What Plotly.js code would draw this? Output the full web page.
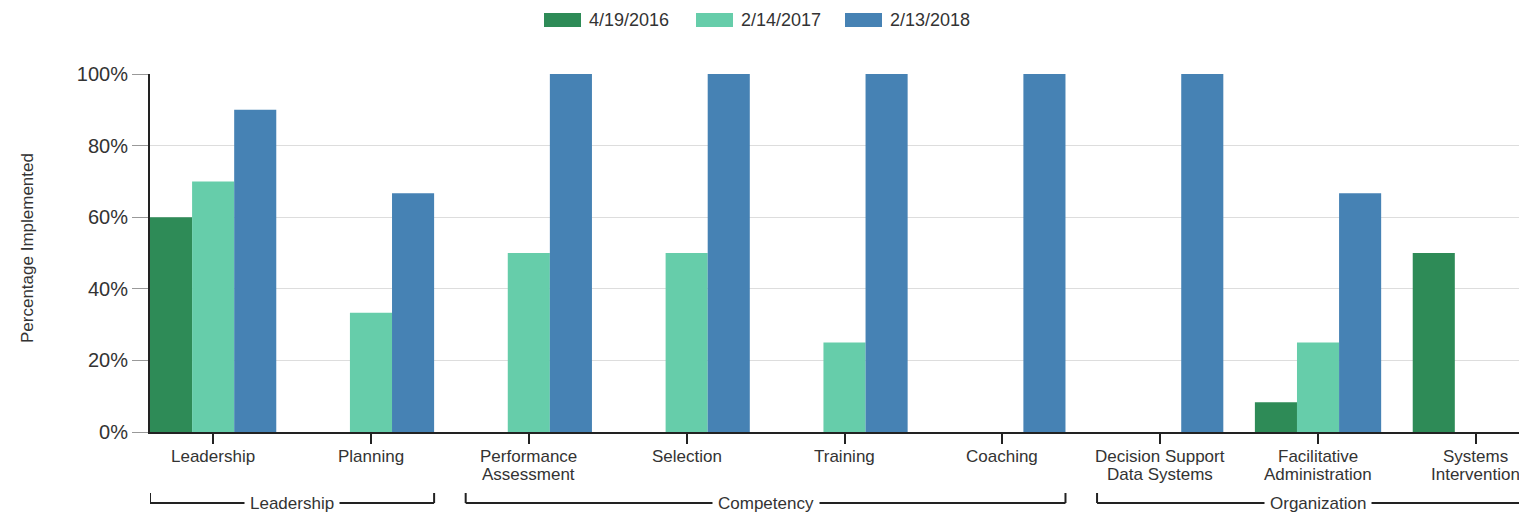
<!DOCTYPE html>
<html>
<head>
<meta charset="utf-8">
<script src="https://cdn.plot.ly/plotly-3.0.1.min.js"></script>
<style>
  html, body { margin: 0; padding: 0; overflow: hidden; background: #fff; }
  #chart { width: 1560px; height: 515px; }
</style>
</head>
<body>
<div id="chart"></div>
<script>
// ---- data ----
const categories = ['Leadership', 'Planning', 'Performance<br>Assessment', 'Selection', 'Training',
  'Coaching', 'Decision Support<br>Data Systems', 'Facilitative<br>Administration', 'Systems<br>Intervention'];
const seriesNames = ['4/19/2016', '2/14/2017', '2/13/2018'];
const values2016 = [60, 0, 0, 0, 0, 0, 0, 8.3, 50];
const values2017 = [70, 33.3, 50, 50, 25, 0, 0, 25, 0];
const values2018 = [90, 66.7, 100, 100, 100, 100, 100, 66.7, 0];
const groupNames = ['Leadership', 'Competency', 'Organization'];
const groupStart = [0, 2, 6];
const groupEnd = [1, 5, 8];
const yTickVals = [0, 20, 40, 60, 80, 100];
const yTickText = ['0%', '20%', '40%', '60%', '80%', '100%'];

// ---- styles ----
const colors = ['#2e8b57', '#66cdaa', '#4682b4'];
const FONT = 'Liberation Sans, Arial, sans-serif';
const W = 1560, H = 515, ML = 150, MR = 21, MT = 74, MB = 83;
const plotW = W - ML - MR, plotH = H - MT - MB;
const px2x = p => (p - ML) / plotW;
const py2y = p => (H - MB - p) / plotH;

const allValues = [values2016, values2017, values2018];
const traces = allValues.map((vals, i) => ({
  type: 'bar',
  x: categories,
  y: vals,
  name: seriesNames[i],
  marker: { color: colors[i] },
  showlegend: false,
  hoverinfo: 'x+y'
}));

const shapes = [];
const annotations = [];

// custom legend (wide swatches)
const legendSwatchX = [544, 696, 845];
seriesNames.forEach((n, i) => {
  shapes.push({
    type: 'rect', xref: 'paper', yref: 'paper',
    x0: px2x(legendSwatchX[i]), x1: px2x(legendSwatchX[i] + 37),
    y0: py2y(27), y1: py2y(13),
    fillcolor: colors[i], line: { width: 0 }
  });
  annotations.push({
    xref: 'paper', yref: 'paper', x: px2x(legendSwatchX[i] + 43), y: py2y(20),
    xanchor: 'left', yanchor: 'middle', showarrow: false, text: n,
    font: { family: FONT, size: 18, color: '#333' }
  });
});

// category labels (tight line spacing, like the reference)
categories.forEach((c, i) => {
  c.split('<br>').forEach((line, k) => {
    annotations.push({
      xref: 'x', yref: 'paper', x: i, y: py2y(456 + k * 18),
      xanchor: 'center', yanchor: 'middle', showarrow: false, text: line,
      font: { family: FONT, size: 17, color: '#333' }
    });
  });
});

// group brackets
const yLine = py2y(503), yTop = py2y(493);
groupNames.forEach((g, i) => {
  const a = groupStart[i] - 0.4, b = groupEnd[i] + 0.4;
  const ln = { color: '#222', width: 2 };
  shapes.push({ type: 'line', xref: 'x', yref: 'paper', x0: a, x1: b, y0: yLine, y1: yLine, line: ln });
  shapes.push({ type: 'line', xref: 'x', yref: 'paper', x0: a, x1: a, y0: yLine, y1: yTop, line: ln });
  shapes.push({ type: 'line', xref: 'x', yref: 'paper', x0: b, x1: b, y0: yLine, y1: yTop, line: ln });
  annotations.push({
    xref: 'x', yref: 'paper', x: (groupStart[i] + groupEnd[i]) / 2, y: yLine,
    xanchor: 'center', yanchor: 'middle', showarrow: false, text: g,
    bgcolor: '#fff', borderpad: 5,
    font: { family: FONT, size: 17, color: '#333' }
  });
});

// y axis title
annotations.push({
  xref: 'paper', yref: 'paper', x: px2x(27), y: py2y(248),
  xanchor: 'center', yanchor: 'middle', showarrow: false, textangle: -90,
  text: 'Percentage Implemented',
  font: { family: FONT, size: 17, color: '#333' }
});

const layout = {
  width: W, height: H,
  margin: { l: ML, r: MR, t: MT, b: MB, pad: 0 },
  paper_bgcolor: '#fff', plot_bgcolor: '#fff',
  barmode: 'group', bargap: 0.2, bargroupgap: 0,
  font: { family: FONT, color: '#333' },
  showlegend: false,
  xaxis: {
    type: 'category',
    range: [-0.4, 8.4],
    showgrid: false, zeroline: false,
    showline: true, linecolor: '#222', linewidth: 2,
    ticks: 'outside', ticklen: 10, tickwidth: 2, tickcolor: '#222',
    showticklabels: false,
    fixedrange: true
  },
  yaxis: {
    range: [0, 100],
    tickvals: yTickVals, ticktext: yTickText,
    showgrid: true, gridcolor: '#dddddd', gridwidth: 1,
    zeroline: false,
    showline: true, linecolor: '#222', linewidth: 2,
    ticks: 'outside', ticklen: 16, tickwidth: 1, tickcolor: '#999',
    tickfont: { family: FONT, size: 20, color: '#333' },
    fixedrange: true
  },
  shapes: shapes,
  annotations: annotations
};

Plotly.newPlot('chart', traces, layout, { displayModeBar: false, staticPlot: true });
</script>
</body>
</html>
